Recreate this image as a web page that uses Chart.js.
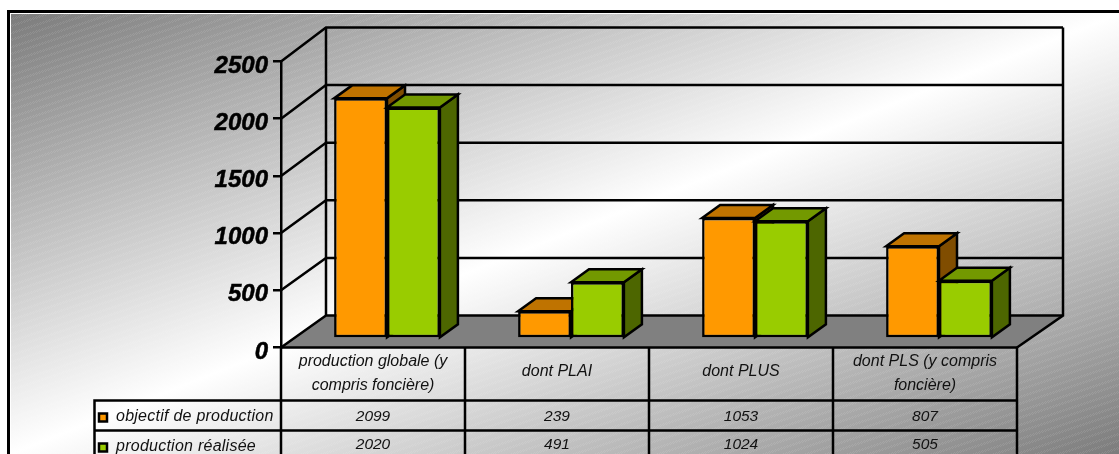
<!DOCTYPE html>
<html lang="fr">
<head>
<meta charset="utf-8">
<title>Production de logements</title>
<style>
  html, body { margin: 0; padding: 0; background: #fff; }
  canvas { display: block; }
</style>
</head>
<body>
<canvas id="graphique" width="1119" height="454"></canvas>
<script src="https://cdn.jsdelivr.net/npm/chart.js@4"></script>
<script>
const categories = [
    ['production globale (y', 'compris foncière)'],
    ['dont PLAI'],
    ['dont PLUS'],
    ['dont PLS (y compris', 'foncière)']
];
const nomObjectif = 'objectif de production';
const nomRealisee = 'production réalisée';
const objectif = [2099, 239, 1053, 807];
const realisee = [2020, 491, 1024, 505];
const yMax = 2500;
const yPas = 500;

const orange = { face: '#ff9900', dessus: '#bf7300', cote: '#804d00' };
const vert = { face: '#99cc00', dessus: '#739900', cote: '#4d6600' };

// decalage de la perspective
const mur = { dx: 45, dy: -32, hauteur: 288 };
const barre = { dx: 14, dy: -9, px: 18, py: -13 };
const ligneTableau = { y1: 400.5, y2: 430.5, gauche: 94.5, bas: 454 };
const police = '"Liberation Sans", Arial, sans-serif';

function motifTrame(ctx) {
    const tuile = document.createElement('canvas');
    tuile.width = 42;
    tuile.height = 14;
    const t = tuile.getContext('2d');
    t.fillStyle = 'rgba(255,255,255,0.1)';
    for (let y = 0; y < 14; y++) {
        for (let x = 0; x < 42; x++) {
            const bande = (x + 3 * y) % 21;
            if (bande < 8 && (x + y) % 2 === 0) t.fillRect(x, y, 1, 1);
        }
    }
    return ctx.createPattern(tuile, 'repeat');
}

const fond = {
    id: 'fond',
    beforeDraw(chart) {
        const { ctx, width, height } = chart;
        const x0 = 11, y0 = 14;
        const w = width - x0, h = height - y0;
        const n = Math.hypot(w, h);
        const ux = h / n, uy = w / n;
        const l = w * h / n;
        const cx = x0 + w / 2, cy = y0 + h / 2;
        const g = ctx.createLinearGradient(cx - ux * l, cy - uy * l, cx + ux * l, cy + uy * l);
        g.addColorStop(0, '#7c7c7c');
        g.addColorStop(0.5, '#ffffff');
        g.addColorStop(1, '#7c7c7c');
        ctx.save();
        ctx.fillStyle = '#fff';
        ctx.fillRect(0, 0, width, height);
        ctx.fillStyle = g;
        ctx.fillRect(x0, y0, w, h);
        ctx.fillStyle = motifTrame(ctx);
        ctx.fillRect(x0, y0, w, h);
        // cadre
        ctx.fillStyle = '#000';
        ctx.fillRect(7, 10, width - 7, 3);
        ctx.fillRect(7, 10, 3, height - 10);
        ctx.restore();
    }
};

function dessineBarres3d(chart, index, couleurs) {
    const { ctx } = chart;
    const meta = chart.getDatasetMeta(index);
    ctx.save();
    ctx.translate(barre.dx, barre.dy);
    ctx.lineWidth = 2.5;
    ctx.strokeStyle = '#000';
    ctx.lineJoin = 'miter';
    meta.data.forEach((b) => {
        const g = b.x - b.width / 2, d = b.x + b.width / 2;
        ctx.fillStyle = couleurs.cote;
        ctx.beginPath();
        ctx.moveTo(d, b.y);
        ctx.lineTo(d + barre.px, b.y + barre.py);
        ctx.lineTo(d + barre.px, b.base + barre.py);
        ctx.lineTo(d, b.base);
        ctx.closePath();
        ctx.fill();
        ctx.stroke();
        ctx.fillStyle = couleurs.dessus;
        ctx.beginPath();
        ctx.moveTo(g, b.y);
        ctx.lineTo(g + barre.px, b.y + barre.py);
        ctx.lineTo(d + barre.px, b.y + barre.py);
        ctx.lineTo(d, b.y);
        ctx.closePath();
        ctx.fill();
        ctx.stroke();
    });
    meta.controller.draw();
    ctx.restore();
}

const decor3d = {
    id: 'decor3d',
    beforeDatasetsDraw(chart) {
        const { ctx, chartArea: a, scales } = chart;
        const yBas = a.bottom + mur.dy;
        const xg = a.left + mur.dx;
        const xd = a.right + mur.dx + 1;
        ctx.save();
        ctx.fillStyle = '#808080';
        ctx.beginPath();
        ctx.moveTo(a.left, a.bottom);
        ctx.lineTo(xg, yBas);
        ctx.lineTo(xd, yBas);
        ctx.lineTo(a.right, a.bottom);
        ctx.closePath();
        ctx.fill();

        ctx.strokeStyle = '#000';
        ctx.lineWidth = 2.5;
        scales.y.ticks.forEach((t) => {
            const y = scales.y.getPixelForValue(t.value);
            const yMur = yBas - (a.bottom - y) * mur.hauteur / a.height;
            ctx.beginPath();
            ctx.moveTo(a.left, y);
            ctx.lineTo(xg, yMur);
            ctx.lineTo(xd, yMur);
            ctx.stroke();
        });
        const yHaut = yBas - mur.hauteur;
        ctx.beginPath();
        ctx.moveTo(xg, yBas);
        ctx.lineTo(xg, yHaut);
        ctx.moveTo(xd, yHaut);
        ctx.lineTo(xd, yBas);
        ctx.lineTo(a.right, a.bottom);
        ctx.stroke();
        ctx.restore();
    },
    // Chart.js dessine la serie 0 en dernier, ici il faut l'orange derriere le vert
    beforeDatasetDraw() {
        return false;
    },
    afterDatasetsDraw(chart) {
        dessineBarres3d(chart, 0, orange);
        dessineBarres3d(chart, 1, vert);
    }
};

const tableau = {
    id: 'tableau',
    afterDraw(chart) {
        const { ctx, chartArea: a, scales } = chart;
        const l = ligneTableau;
        const x = scales.x;
        const largeur = a.width / categories.length;
        ctx.save();
        ctx.strokeStyle = '#000';
        ctx.lineWidth = 2.5;
        ctx.beginPath();
        ctx.moveTo(a.left, a.bottom);
        ctx.lineTo(a.right, a.bottom);
        for (let i = 0; i <= categories.length; i++) {
            const xi = a.left + i * largeur;
            ctx.moveTo(xi, a.bottom);
            ctx.lineTo(xi, l.bas);
        }
        ctx.moveTo(l.gauche, l.bas);
        ctx.lineTo(l.gauche, l.y1);
        ctx.lineTo(a.right, l.y1);
        ctx.moveTo(l.gauche, l.y2);
        ctx.lineTo(a.right, l.y2);
        ctx.stroke();

        ctx.fillStyle = '#111';
        ctx.textAlign = 'center';
        ctx.textBaseline = 'middle';
        categories.forEach((lignes, i) => {
            const cx = x.getPixelForValue(i);
            ctx.font = 'italic 16px ' + police;
            if (lignes.length === 1) {
                ctx.fillText(lignes[0], cx, 372);
            } else {
                ctx.fillText(lignes[0], cx, 362);
                ctx.fillText(lignes[1], cx, 385.5);
            }
            ctx.font = 'italic 15.5px ' + police;
            ctx.fillText(objectif[i], cx, 417);
            ctx.fillText(realisee[i], cx, 444.5);
        });

        ctx.textAlign = 'left';
        ctx.font = 'italic 16px ' + police;
        ctx.letterSpacing = '0.25px';
        ctx.fillText(nomObjectif, 116, 417);
        ctx.fillText(nomRealisee, 116, 447);
        ctx.letterSpacing = '0px';
        [[orange.face, 413.5], [vert.face, 443.5]].forEach(([c, y]) => {
            ctx.fillStyle = c;
            ctx.fillRect(99, y, 8, 8);
            ctx.strokeRect(99, y, 8, 8);
        });
        ctx.restore();
    }
};

new Chart(document.querySelector('#graphique'), {
    type: 'bar',
    data: {
        labels: categories,
        datasets: [
            { label: nomObjectif, data: objectif, backgroundColor: orange.face },
            { label: nomRealisee, data: realisee, backgroundColor: vert.face }
        ]
    },
    plugins: [fond, decor3d, tableau],
    options: {
        responsive: false,
        animation: false,
        layout: { padding: { left: 211, right: 102, top: 61.5, bottom: 106.5 } },
        datasets: {
            bar: {
                clip: false,
                barPercentage: 1,
                categoryPercentage: 0.575,
                borderColor: '#000',
                borderWidth: 2.5,
                borderSkipped: false
            }
        },
        plugins: { legend: { display: false }, tooltip: { enabled: false } },
        scales: {
            x: { display: false },
            y: {
                min: 0,
                max: yMax,
                afterFit(scale) {
                    scale.width = 70;
                    scale.paddingTop = 0;
                    scale.paddingBottom = 0;
                },
                border: { color: '#000', width: 2.5 },
                grid: { drawOnChartArea: false, color: '#000', lineWidth: 2.5, tickLength: 8 },
                ticks: {
                    stepSize: yPas,
                    padding: 5,
                    color: '#000',
                    textStrokeColor: '#000',
                    textStrokeWidth: 0.5,
                    font: { family: police, size: 24, weight: 'bold', style: 'italic', lineHeight: 0.38 },
                    // ligne vide pour descendre le libelle sous sa graduation
                    callback: (v) => ['', String(v)]
                }
            }
        }
    }
});
</script>
</body>
</html>
